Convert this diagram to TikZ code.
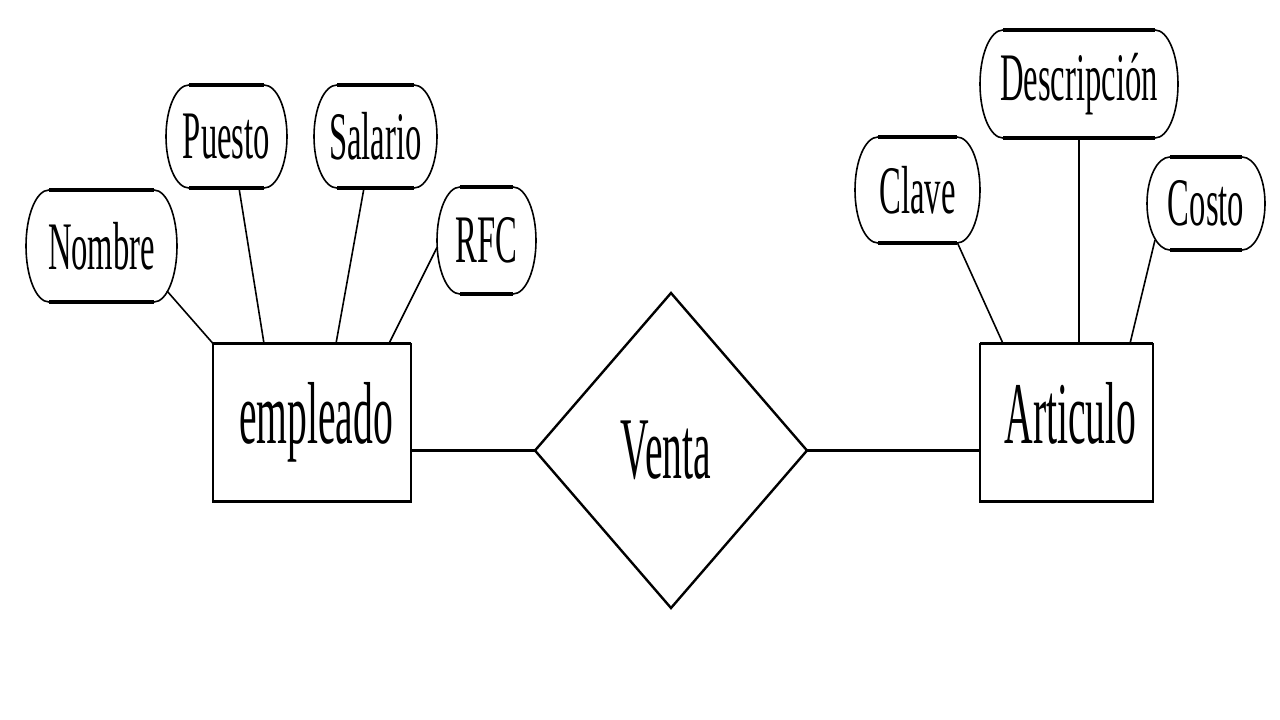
\documentclass[tikz,border=0pt]{standalone}
\usepackage{fontspec}
\setmainfont{Liberation Serif}
\usepackage{graphicx}
\usetikzlibrary{shapes.geometric,calc}
\newcommand{\atxt}[1]{\scalebox{0.48}[1]{#1}}
\newcommand{\etxt}[1]{\scalebox{0.45}[1]{#1}}
\begin{document}
\begin{tikzpicture}[x=1pt,y=-1pt,
  attr/.style={inner sep=0pt, outer sep=0pt, font=\fontsize{68}{68}\selectfont},
  attrline/.style={line width=1.6pt},
  entity/.style={draw, line width=2pt, inner sep=0pt, outer sep=0pt,
    font=\fontsize{88}{88}\selectfont, text height=60pt, text depth=19pt},
  rel/.style={draw, diamond, line width=2.4pt, inner sep=0pt, outer sep=0pt,
    font=\fontsize{88}{88}\selectfont},
  conn/.style={line width=1.6pt},
  relline/.style={line width=3.5pt},
  rim/.style={line width=3.5pt}]
\fill[white] (0,0) rectangle (1280,720);
\useasboundingbox (0,0) rectangle (1280,720);

% attributes
\node[attr, minimum width=151, minimum height=112] (nombre) at (101.5,246) {\atxt{Nombre}};
\node[attr, minimum width=121, minimum height=103] (puesto) at (226.5,136.5) {\atxt{Puesto}};
\node[attr, minimum width=123, minimum height=103] (salario) at (375.5,136.5) {\atxt{Salario}};
\node[attr, minimum width=99, minimum height=107] (rfc) at (486.5,240.5) {\atxt{RFC}};
\node[attr, minimum width=125, minimum height=106] (clave) at (917.5,190) {\atxt{Clave}};
\node[attr, minimum width=198, minimum height=108] (desc) at (1079,84) {\atxt{Descripción}};
\node[attr, minimum width=118, minimum height=93] (costo) at (1206,203.5) {\atxt{Costo}};

% attribute outlines: flat top and bottom, half-elliptic sides
\foreach \n/\h in {nombre/56,puesto/51.5,salario/51.5,rfc/53.5,clave/53,desc/54,costo/46.5} {
  \draw[attrline] ($(\n.north west)+(23,0)$) -- ($(\n.north east)+(-23,0)$)
    arc[start angle=-90, end angle=90, x radius=23, y radius=\h]
    -- ($(\n.south west)+(23,0)$)
    arc[start angle=90, end angle=270, x radius=23, y radius=\h] -- cycle;
  \draw[rim] ($(\n.north west)+(23,0)$) -- ($(\n.north east)+(-23,0)$);
  \draw[rim] ($(\n.south west)+(23,0)$) -- ($(\n.south east)+(-23,0)$);
}

% entities and relationship
\node[entity, minimum width=198, minimum height=158] (emp) at (312,422.5) {\hspace*{8pt}\etxt{empleado}};
\node[entity, minimum width=173, minimum height=158] (art) at (1066.5,422.5) {\hspace*{8pt}\etxt{Articulo}};
\node[rel, minimum width=272, minimum height=315] (venta) at (671,450.5) {\etxt{Venta}\hspace*{10pt}};

\foreach \n in {emp,art} {
  \draw[rim] (\n.north west) -- (\n.north east);
  \draw[rim] (\n.south west) -- (\n.south east);
}

% connectors
\draw[conn] ($(nombre.south east)+(-10,-11)$) -- (emp.north west);
\draw[conn] ($(puesto.south)+(12.5,0)$) -- ($(emp.north west)+(51,0)$);
\draw[conn] ($(salario.south)+(-11.5,0)$) -- ($(emp.north west)+(123,0)$);
\draw[conn] ($(rfc.west)+(0,7)$) -- ($(emp.north west)+(176,0)$);
\draw[conn] ($(clave.south)+(40,0)$) -- ($(art.north west)+(23,0)$);
\draw[conn] (desc.south) -- (desc.south |- art.north);
\draw[conn] ($(costo.south west)+(8,-10)$) -- ($(art.north west)+(150,0)$);
\draw[relline] (emp.east |- venta.west) -- (venta.west);
\draw[relline] (venta.east) -- (art.west |- venta.east);
\end{tikzpicture}
\end{document}
